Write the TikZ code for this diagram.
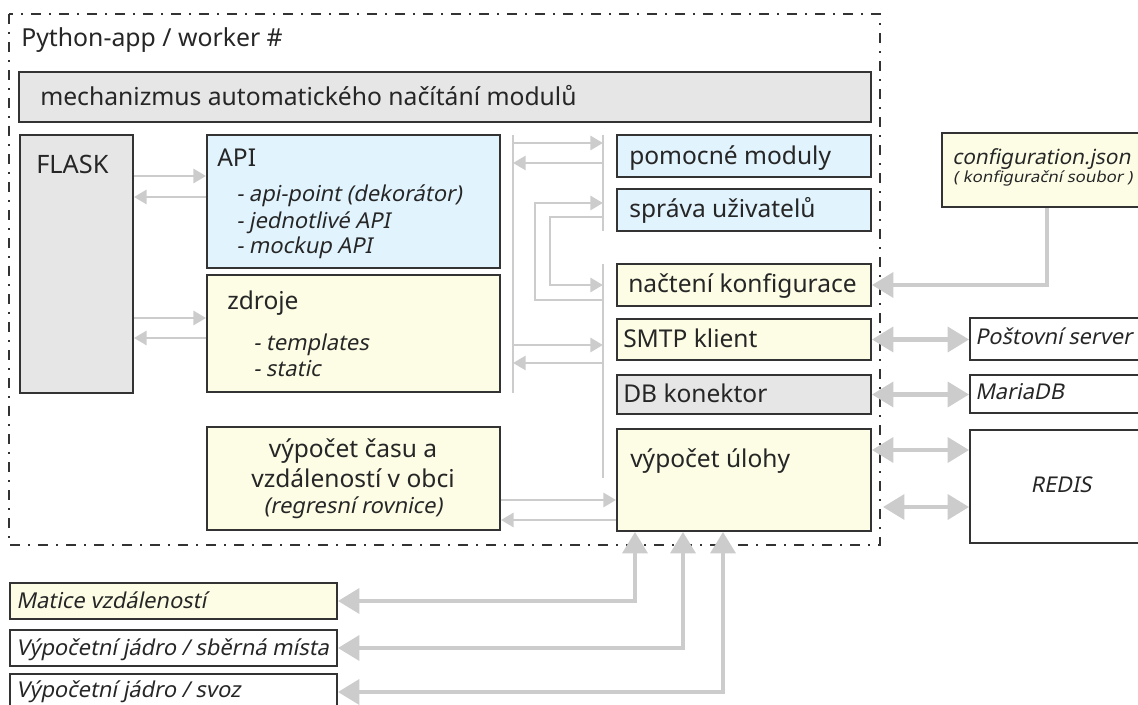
\documentclass[tikz,border=0pt]{standalone}
\usepackage{fontspec}
\setmainfont{Noto Sans}[ItalicFont={Noto Sans}, ItalicFeatures={FakeSlant=0.2}]
\newfontfamily\smallwide{Noto Sans}[FakeSlant=0.2, FakeStretch=1.1]
\usetikzlibrary{fit,arrows.meta}
\definecolor{bxline}{HTML}{333333}
\definecolor{gfill}{HTML}{E6E6E6}
\definecolor{bfill}{HTML}{E1F3FD}
\definecolor{yfill}{HTML}{FDFDE6}
\definecolor{conn}{HTML}{CCCCCC}
\newcommand\fsbig{\fontsize{18.4}{21}\selectfont}
\newcommand\fstitle{\fontsize{18.6}{21}\selectfont}
\newcommand\fsmid{\fontsize{16.4}{19}\selectfont}
\newcommand\fssmall{\fontsize{11.5}{14}\selectfont}
\begin{document}
\begin{tikzpicture}[x=0.75pt,y=-0.75pt,
  bx/.style={draw=bxline, line width=1.4pt, inner sep=0pt, rectangle},
  gbox/.style={bx, fill=gfill},
  bbox/.style={bx, fill=bfill},
  ybox/.style={bx, fill=yfill},
  wbox/.style={bx, fill=white},
  tl/.style={anchor=base west, inner sep=0pt, text=black!85, font=\fsbig},
  tc/.style={anchor=base, inner sep=0pt, text=black!85, font=\fsbig},
  bus/.style={draw=conn, line width=2.2pt},
  ic/.style={draw=conn, line width=2.2pt, -{Triangle[length=9.5pt,width=10.5pt]}},
  oc/.style={draw=conn, line width=3.2pt, -{Triangle[length=16pt,width=18.5pt]}},
  oc2/.style={draw=conn, line width=3.2pt, {Triangle[length=16pt,width=18.5pt]}-{Triangle[length=16pt,width=18.5pt]}},
  frame/.style={draw=bxline, line width=1.1pt, dash pattern=on 7.5pt off 6pt on 1.5pt off 6pt}
]
\useasboundingbox (0,0) rectangle (1138,705);

% outer dash-dot frame
\draw[frame] (9,14) rectangle (880,545);
\node[tl, font=\fstitle] (title) at (21,47) {Python-app / worker \#};

% boxes
\node[gbox, fit={(19,72) (871,122)}] (mech) {};
\node[gbox, fit={(20,135) (133,393)}] (flask) {};
\node[bbox, fit={(207,135) (500,268)}] (api) {};
\node[ybox, fit={(207,275) (500,392)}] (zdroje) {};
\node[ybox, fit={(207,427) (500,530)}] (cas) {};
\node[bbox, fit={(617,135) (871,177)}] (pom) {};
\node[bbox, fit={(617,189) (871,231)}] (sprava) {};
\node[ybox, fit={(617,264) (871,306)}] (nacteni) {};
\node[ybox, fit={(617,319) (871,360)}] (smtp) {};
\node[gbox, fit={(617,375) (871,414)}] (db) {};
\node[ybox, fit={(617,429) (871,531)}] (uloha) {};
\node[ybox, fit={(942,133) (1150,207)}] (config) {};
\node[wbox, fit={(970,318) (1150,360)}] (post) {};
\node[wbox, fit={(970,375) (1150,413)}] (maria) {};
\node[wbox, fit={(970,430) (1150,543)}] (redis) {};
\node[ybox, fit={(10,583) (337,619)}] (matice) {};
\node[wbox, fit={(10,630) (337,666)}] (sberna) {};
\node[wbox, fit={(10,674) (337,712)}] (svoz) {};

% texts
\node[tl, font=\fontsize{18.5}{21}\selectfont] (tmech) at (40,106) {mechanizmus automatického načítání modulů};
\node[tl, font=\fontsize{19}{21}\selectfont] (tflask) at (36,174) {FLASK};
\node[tl] (tapi) at (217,167) {API};
\node[tl, font=\fsmid\itshape] (tapi1) at (236,202) {- api-point (dekorátor)};
\node[tl, font=\fsmid\itshape] (tapi2) at (236,229) {- jednotlivé API};
\node[tl, font=\fsmid\itshape] (tapi3) at (236,254) {- mockup API};
\node[tl] (tzdr) at (227,310) {zdroje};
\node[tl, font=\fsmid\itshape] (tzdr1) at (253,351) {- templates};
\node[tl, font=\fsmid\itshape] (tzdr2) at (253,377) {- static};
\node[tc] (tcas1) at (353,458) {výpočet času a};
\node[tc] (tcas2) at (353,487) {vzdáleností v obci};
\node[tc, font=\fsmid\itshape] (tcas3) at (353,513) {(regresní rovnice)};
\node[tl] (tpom) at (629,165) {pomocné moduly};
\node[tl] (tspr) at (629,218) {správa uživatelů};
\node[tl] (tnac) at (628,293) {načtení konfigurace};
\node[tl] (tsmtp) at (623,348) {SMTP klient};
\node[tl] (tdb) at (623,403) {DB konektor};
\node[tl] (tul) at (630,467) {výpočet úlohy};
\node[tl, font=\fontsize{15.6}{19}\selectfont\itshape] (tconf) at (952,165) {configuration.json};
\node[tc, font=\fssmall\smallwide] (tconf2) at (1043,183) {( konfigurační soubor )};
\node[tl, font=\fontsize{16.3}{19}\selectfont\itshape] (tpost) at (975,345) {Poštovní server};
\node[tl, font=\fontsize{16.3}{19}\selectfont\itshape] (tmaria) at (975,400) {MariaDB};
\node[tc, font=\fontsize{16.3}{19}\selectfont\itshape] (tredis) at (1061,493) {REDIS};
\node[tl, font=\fsmid\itshape] (tmat) at (16,608) {Matice vzdáleností};
\node[tl, font=\fsmid\itshape] (tsb) at (16,655) {Výpočetní jádro / sběrná místa};
\node[tl, font=\fsmid\itshape] (tsv) at (16,697) {Výpočetní jádro / svoz};

% bus coordinates
\coordinate (bl1) at (513,135); \coordinate (bl2) at (513,393);
\coordinate (br1) at (603,135); \coordinate (br2) at (603,231);
\coordinate (br3) at (603,264); \coordinate (br4) at (603,478);
\coordinate (r2) at (883,507);

\draw[bus] (bl1) -- (bl2);
\draw[bus] (br1) -- (br2);
\draw[bus] (br3) -- (br4);

% FLASK <-> API / zdroje
\draw[ic] (flask.east |- 0,176) -- (api.west |- 0,176);
\draw[ic] (api.west |- 0,197) -- (flask.east |- 0,197);
\draw[ic] (flask.east |- 0,318) -- (zdroje.west |- 0,318);
\draw[ic] (zdroje.west |- 0,338) -- (flask.east |- 0,338);

% bus arrows
\draw[ic] (bl1 |- 0,143) -- (br1 |- 0,143);
\draw[ic] (br1 |- 0,163) -- (bl1 |- 0,163);
\draw[ic] (br3 |- 0,300) -- (535,300) -- (535,203) -- (br1 |- 0,203);
\draw[ic] (br1 |- 0,217) -- (550,217) -- (550,285) -- (br3 |- 0,285);
\draw[ic] (bl1 |- 0,345) -- (br3 |- 0,345);
\draw[ic] (br3 |- 0,363) -- (bl1 |- 0,363);

% cas <-> uloha
\draw[ic] (cas.east |- 0,500) -- (uloha.west |- 0,500);
\draw[ic] (uloha.west |- 0,520) -- (cas.east |- 0,520);

% right side
\draw[oc] (config.south -| 1047,0) |- (nacteni.east);
\draw[oc2] (smtp.east) -- (post.west |- smtp.east);
\draw[oc2] (db.east) -- (maria.west |- db.east);
\draw[oc2] (uloha.east |- 0,450) -- (redis.west |- 0,450);
\draw[oc2] (r2) -- (redis.west |- r2);

% bottom
\draw[oc2] (matice.east) -| (uloha.south -| 635,0);
\draw[oc2] (sberna.east) -| (uloha.south -| 683,0);
\draw[oc2] (svoz.east |- 0,692) -| (uloha.south -| 723,0);
\end{tikzpicture}
\end{document}
